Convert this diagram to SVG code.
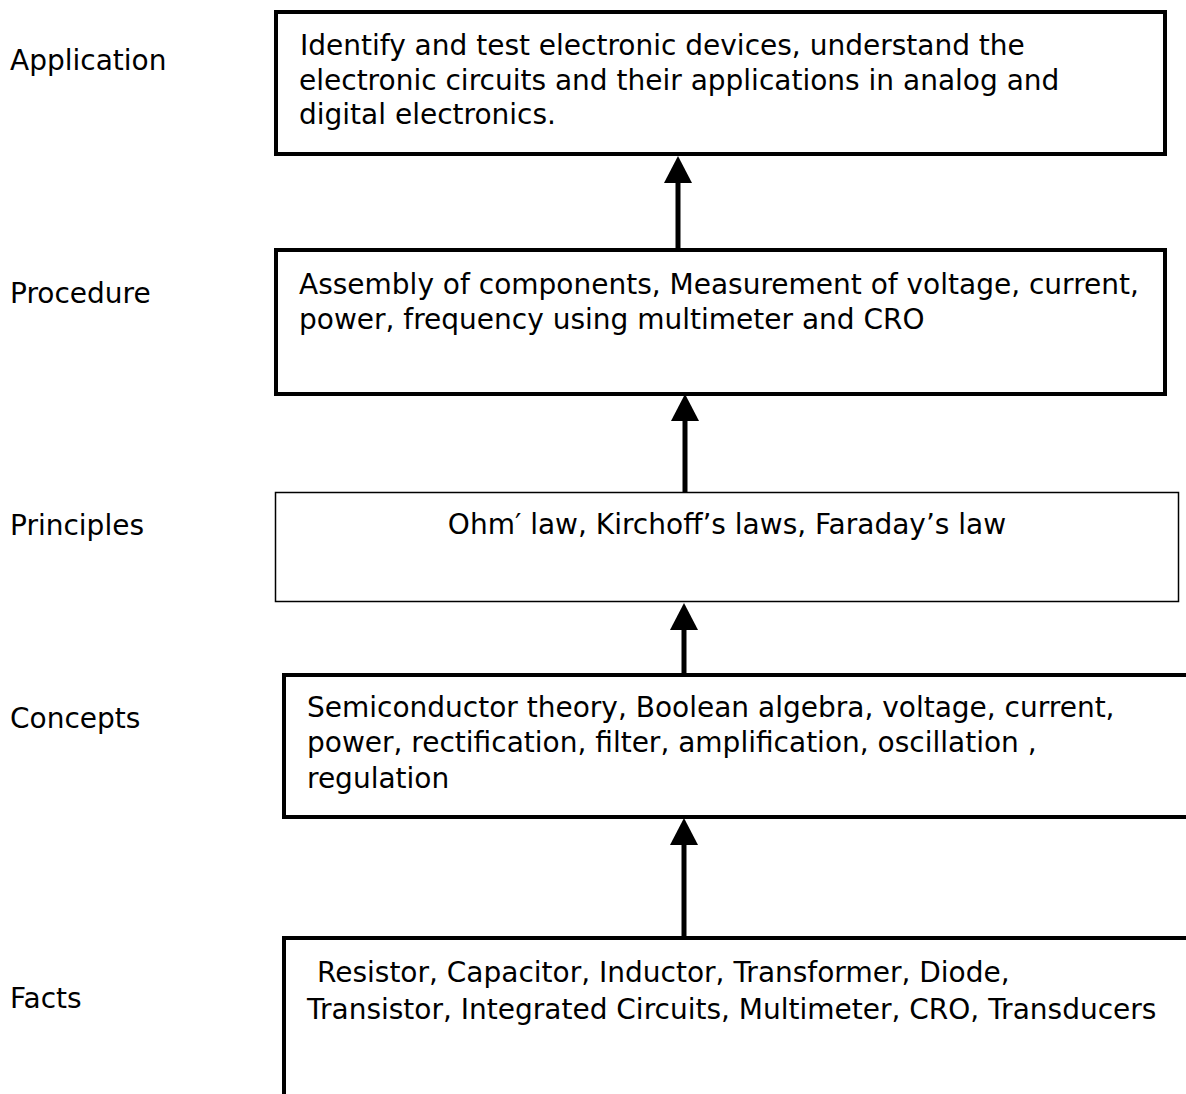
<svg xmlns="http://www.w3.org/2000/svg" width="1186" height="1094" viewBox="0 0 1186 1094">
<style>
text{font-family:"DejaVu Sans","Liberation Sans",sans-serif;font-size:28px;fill:#000}
.box{fill:#fff;stroke:#000}
.thick{stroke-width:4}
.thin{stroke-width:1.5}
.shaft{stroke:#000;stroke-width:5;fill:none}
.head{fill:#000}
</style>
<rect width="1186" height="1094" fill="#fff"/>
<g id="labels">
<text x="10" y="70">Application</text>
<text x="10" y="303">Procedure</text>
<text x="10" y="535">Principles</text>
<text x="10" y="728">Concepts</text>
<text x="10" y="1008">Facts</text>
</g>
<g id="node-application">
<rect class="box thick" x="276" y="12" width="889" height="142"/>
<text x="300" y="55">Identify and test electronic devices, understand the</text>
<text x="299" y="90">electronic circuits and their applications in analog and</text>
<text x="299" y="124">digital electronics.</text>
</g>
<g id="node-procedure">
<rect class="box thick" x="276" y="250" width="889" height="144"/>
<text x="299" y="294">Assembly of components, Measurement of voltage, current,</text>
<text x="299" y="329">power, frequency using multimeter and CRO</text>
</g>
<g id="node-principles">
<rect class="box thin" x="275.5" y="492.5" width="903" height="109"/>
<text x="727" y="534" text-anchor="middle">Ohm′ law, Kirchoff’s laws, Faraday’s law</text>
</g>
<g id="node-concepts">
<rect class="box thick" x="284" y="675" width="920" height="142"/>
<text x="307" y="717">Semiconductor theory, Boolean algebra, voltage, current,</text>
<text x="307" y="752">power, rectification, filter, amplification, oscillation ,</text>
<text x="307" y="788">regulation</text>
</g>
<g id="node-facts">
<rect class="box thick" x="284" y="938" width="920" height="180"/>
<text x="317" y="982">Resistor, Capacitor, Inductor, Transformer, Diode,</text>
<text x="307" y="1019">Transistor, Integrated Circuits, Multimeter, CRO, Transducers</text>
</g>
<g id="connectors">
<line class="shaft" x1="678" y1="250" x2="678" y2="180"/>
<polygon class="head" points="678,156 664,183 692,183"/>
<line class="shaft" x1="685" y1="492" x2="685" y2="418"/>
<polygon class="head" points="685,394 671,421 699,421"/>
<line class="shaft" x1="684" y1="675" x2="684" y2="628"/>
<polygon class="head" points="684,603 670,630 698,630"/>
<line class="shaft" x1="684" y1="938" x2="684" y2="843"/>
<polygon class="head" points="684,818 670,845 698,845"/>
</g>
</svg>
